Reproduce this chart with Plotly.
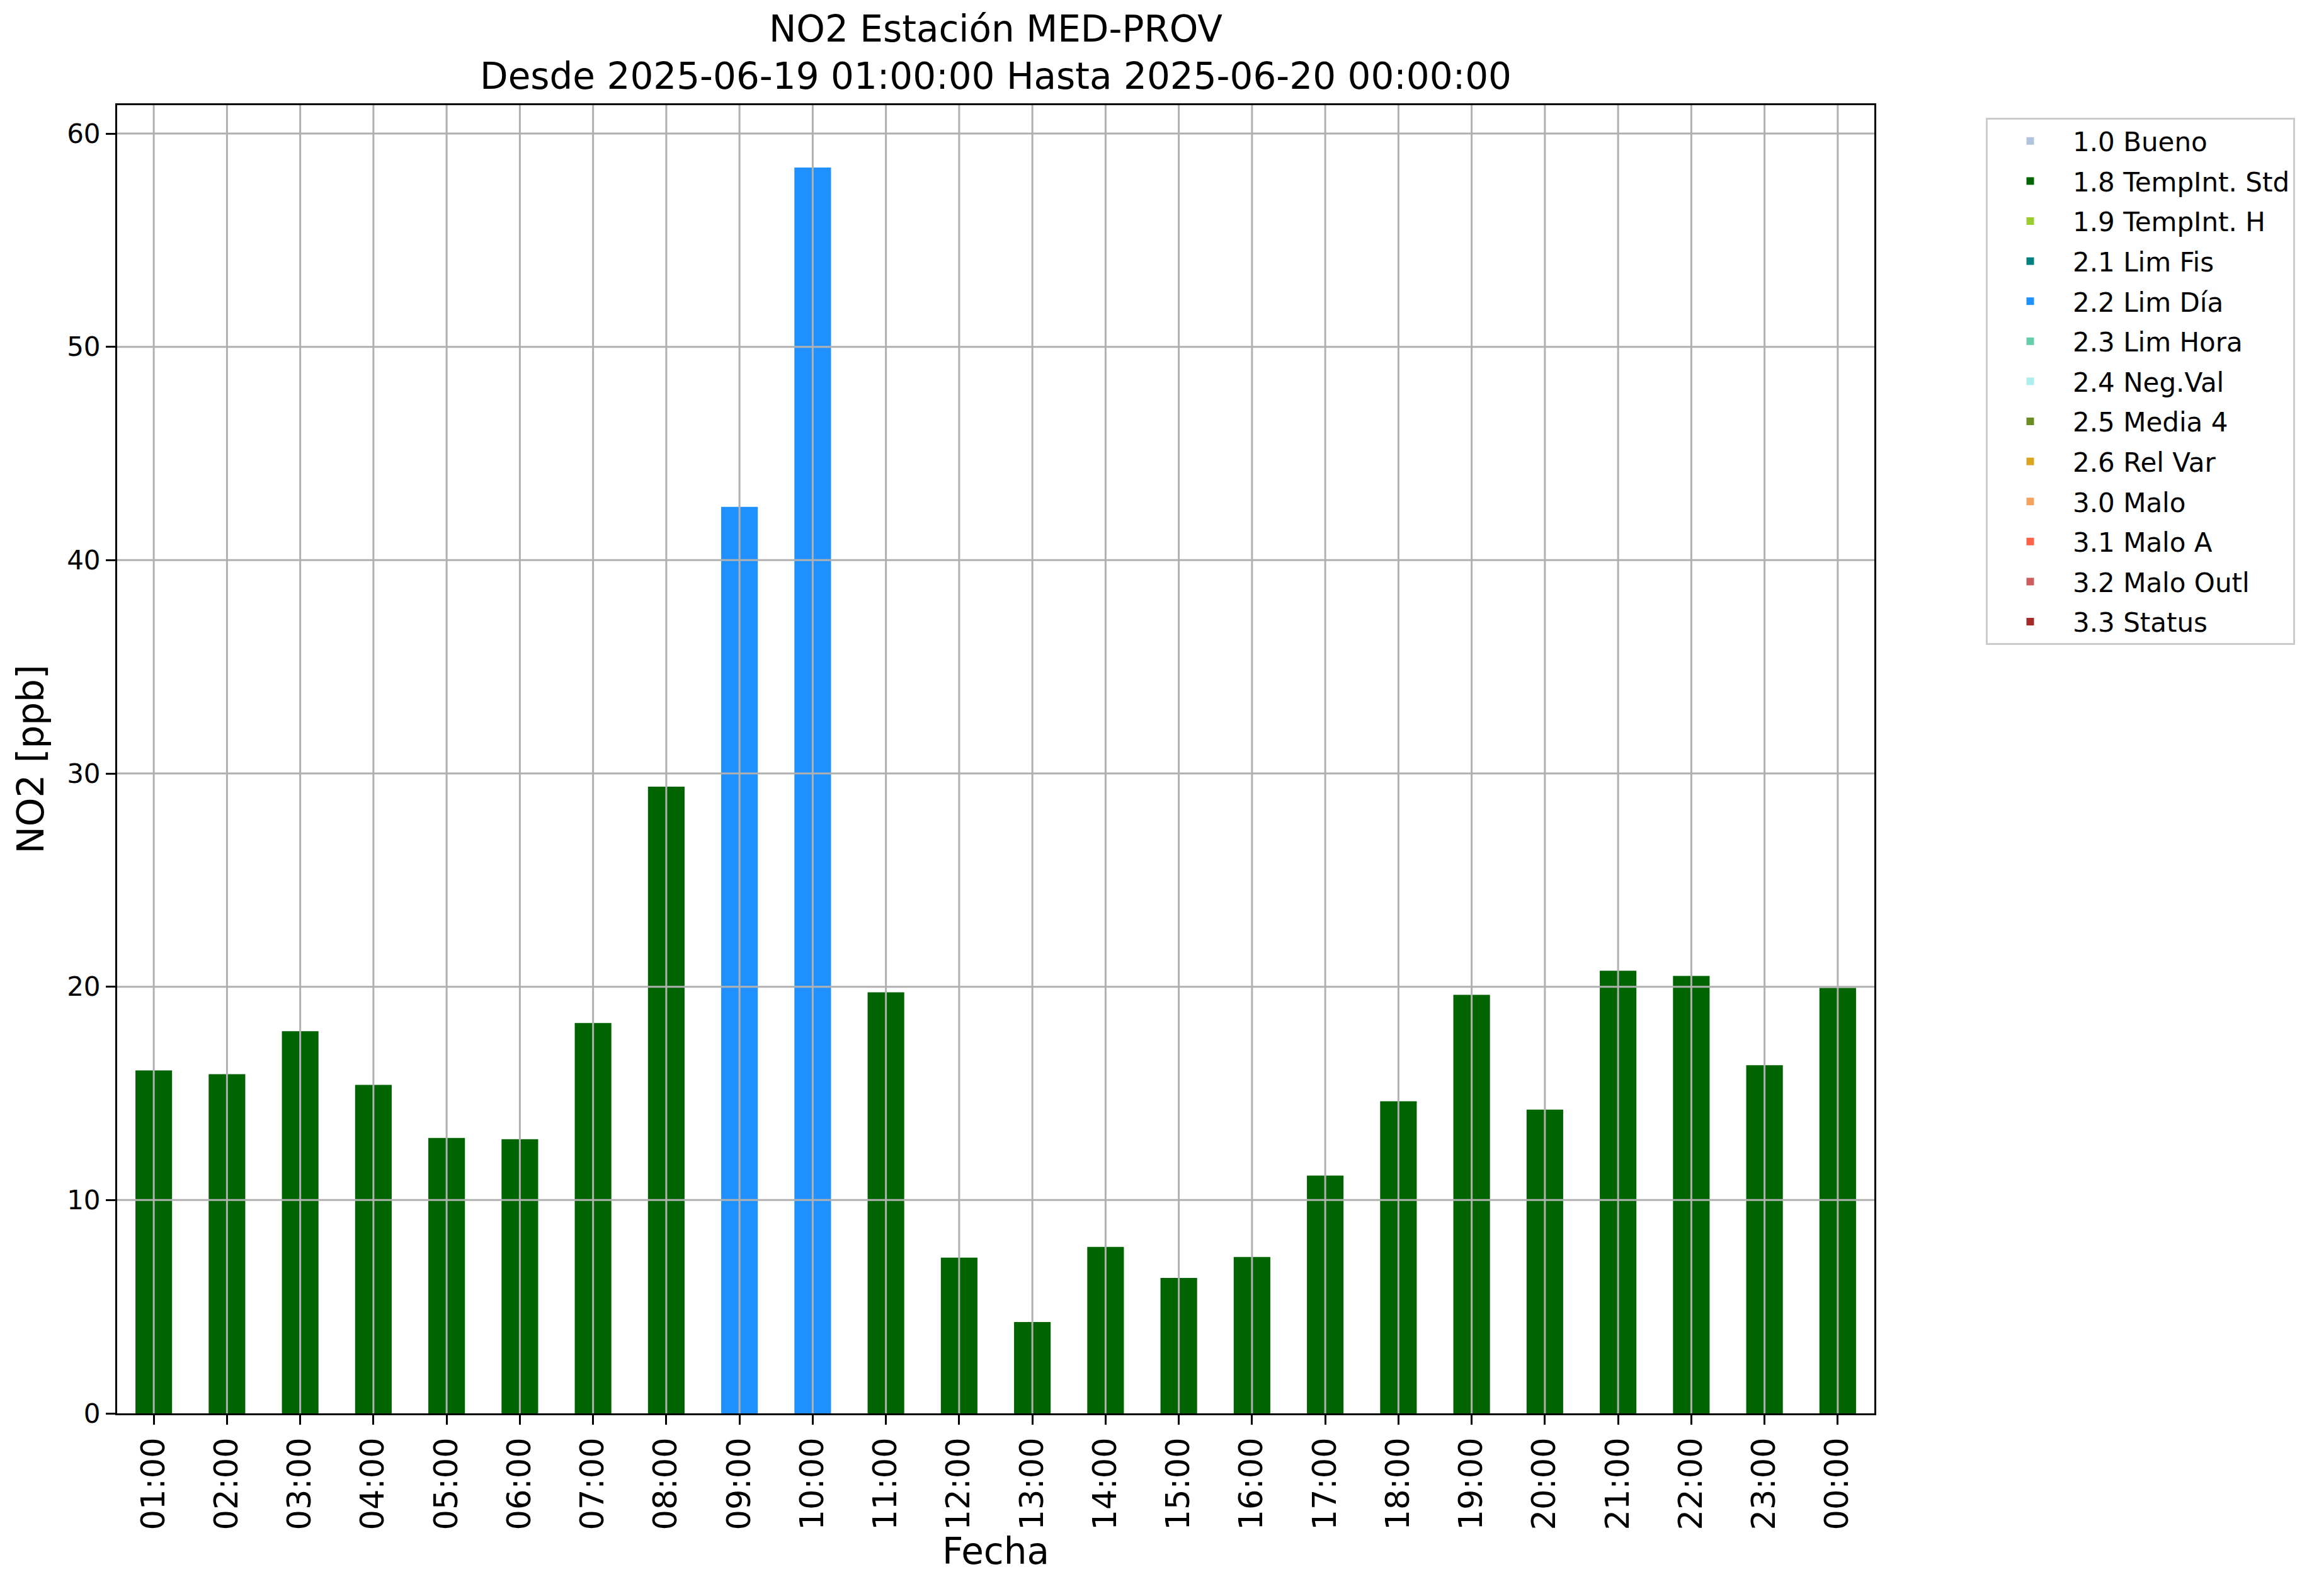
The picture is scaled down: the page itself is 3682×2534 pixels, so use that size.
import plotly.graph_objects as go

# ---- data ----
hours = ["01:00", "02:00", "03:00", "04:00", "05:00", "06:00", "07:00", "08:00",
         "09:00", "10:00", "11:00", "12:00", "13:00", "14:00", "15:00", "16:00",
         "17:00", "18:00", "19:00", "20:00", "21:00", "22:00", "23:00", "00:00"]
no2 = [16.08, 15.90, 17.92, 15.40, 12.91, 12.85, 18.30, 29.38,
       42.50, 58.41, 19.74, 7.30, 4.28, 7.80, 6.35, 7.33,
       11.15, 14.63, 19.62, 14.24, 20.75, 20.51, 16.32, 19.95]
flags = ["1.8", "1.8", "1.8", "1.8", "1.8", "1.8", "1.8", "1.8",
         "2.2", "2.2", "1.8", "1.8", "1.8", "1.8", "1.8", "1.8",
         "1.8", "1.8", "1.8", "1.8", "1.8", "1.8", "1.8", "1.8"]
flag_codes = ["1.0", "1.8", "1.9", "2.1", "2.2", "2.3", "2.4", "2.5", "2.6",
              "3.0", "3.1", "3.2", "3.3"]
flag_names = ["1.0 Bueno", "1.8 TempInt. Std", "1.9 TempInt. H", "2.1 Lim Fis",
              "2.2 Lim Día", "2.3 Lim Hora", "2.4 Neg.Val", "2.5 Media 4",
              "2.6 Rel Var", "3.0 Malo", "3.1 Malo A", "3.2 Malo Outl", "3.3 Status"]
flag_colors = ["#B0C4DE", "#006400", "#9ACD32", "#008080", "#1E90FF", "#66CDAA",
               "#AFEEEE", "#6B8E23", "#DAA520", "#F4A460", "#FF6347", "#CD5C5C",
               "#A52A2A"]
yticks = [0, 10, 20, 30, 40, 50, 60]

FONT = "DejaVu Sans"
# page has an 8px body margin, so the figure is slightly smaller than the window
W, H = 3666, 2518
ML, MT = 178, 159
PW, PH = 2790, 2077
MR = W - ML - PW
MB = H - MT - PH

xs = list(range(len(hours)))
fig = go.Figure()
for code, name, color in zip(flag_codes, flag_names, flag_colors):
    yv = [v if f == code else None for v, f in zip(no2, flags)]
    fig.add_trace(go.Bar(
        x=xs, y=yv, name=name, width=0.5,
        marker=dict(color=color, line=dict(width=0)),
        legendgroup=name, showlegend=True,
    ))

# grid lines drawn above the bars (as in the reference)
grid_style = dict(color="#b0b0b0", width=3)
for i in xs:
    fig.add_shape(type="line", xref="x", yref="paper", x0=i, x1=i, y0=0, y1=1,
                  line=grid_style, layer="above")
for t in yticks[1:]:
    fig.add_shape(type="line", xref="paper", yref="y", x0=0, x1=1, y0=t, y1=t,
                  line=grid_style, layer="above")

ymax = max(no2) * 1.05

fig.update_layout(
    width=W, height=H, autosize=False,
    margin=dict(l=ML, r=MR, t=MT, b=MB, pad=0),
    paper_bgcolor="white", plot_bgcolor="white",
    font=dict(family=FONT, color="black", size=42),
    barmode="overlay",
    title=dict(
        text="NO2 Estación MED-PROV<br>Desde 2025-06-19 01:00:00 Hasta 2025-06-20 00:00:00",
        font=dict(family=FONT, size=58, color="black"),
        x=(ML + PW / 2) / W, xref="container", xanchor="center",
        y=1 - 58 / H, yref="container", yanchor="top",
    ),
    xaxis=dict(
        range=[-0.5, len(hours) - 0.5],
        tickmode="array", tickvals=xs, ticktext=hours, tickangle=-90,
        tickfont=dict(family=FONT, size=51, color="black"),
        ticks="outside", ticklen=15, tickwidth=3, tickcolor="black",
        showgrid=False, zeroline=False,
        showline=True, linecolor="black", linewidth=3, mirror=True,
        title=dict(text="Fecha", font=dict(family=FONT, size=58, color="black"), standoff=12),
    ),
    yaxis=dict(
        range=[0, ymax],
        tickmode="array", tickvals=yticks, ticktext=[str(t) for t in yticks],
        tickfont=dict(family=FONT, size=42, color="black"),
        ticks="outside", ticklen=15, tickwidth=3, tickcolor="black",
        showgrid=False, zeroline=False,
        showline=True, linecolor="black", linewidth=3, mirror=True,
        title=dict(text="NO2 [ppb]", font=dict(family=FONT, size=58, color="black"), standoff=18),
    ),
    legend=dict(
        x=(3145 - ML) / PW, y=1 - (179 - MT) / PH,
        xanchor="left", yanchor="top",
        bgcolor="white", bordercolor="#cccccc", borderwidth=3,
        font=dict(family=FONT, size=42, color="black"),
        tracegroupgap=6, traceorder="grouped", itemwidth=125,
    ),
)

fig.write_html("out.html")
